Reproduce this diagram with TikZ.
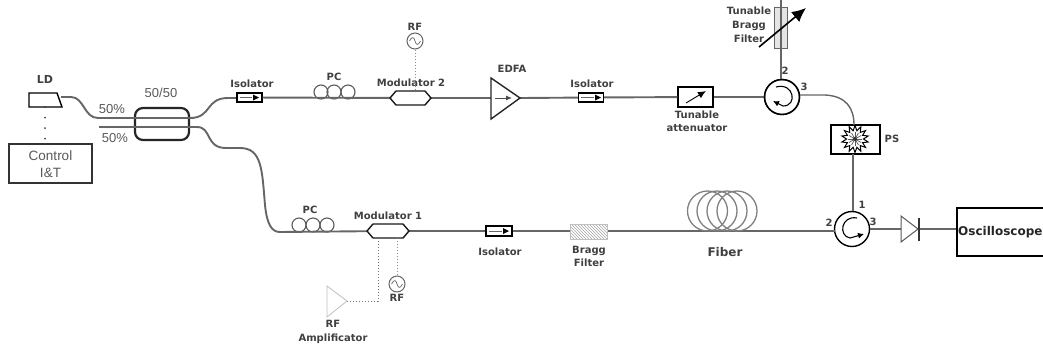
\documentclass[tikz,border=0pt]{standalone}
\usepackage{fontspec}
\setmainfont{Liberation Sans}
\newfontfamily\lblfont{DejaVu Sans}[BoldFont={DejaVu Sans Bold}]
\usetikzlibrary{shapes.geometric,patterns,arrows.meta,calc}
\tikzset{
  x=1pt,y=-1pt,
  lbl/.style={font=\lblfont\bfseries\fontsize{10}{12}\selectfont,text=black!75,inner sep=0pt,align=center},
  plain/.style={font=\fontsize{13}{15}\selectfont,text=black!65,inner sep=0pt,align=center},
  fibre/.style={draw=black!60,line width=1.9pt},
  thinfibre/.style={draw=black!60,line width=1.4pt},
  ctl/.style={draw=black!55,dotted,line width=1pt},
  isobox/.style={draw=black,line width=1.3pt,fill=white,minimum width=25pt,minimum height=9pt,inner sep=0pt},
  pcloop/.style={circle,draw=black!65,line width=1.1pt,fill=none,minimum size=14pt,inner sep=0pt},
  modul/.style={draw=black!90,line width=1.4pt,fill=white},
  rfsrc/.style={circle,draw=black!60,line width=1pt,fill=white,minimum size=16pt,inner sep=0pt},
  circ/.style={circle,draw=black,line width=1.4pt,fill=white,minimum size=35pt,inner sep=0pt},
  coil/.style={draw=black!50,line width=1.3pt},
  bigbox/.style={draw=black,line width=1.5pt,fill=white,inner sep=0pt},
}
\begin{document}
\begin{tikzpicture}
\useasboundingbox (0,0) rectangle (1043,349);
% ---------- anchors for free ends
\coordinate (ldout) at (61,97);
\coordinate (upL) at (98,118);
\coordinate (upR) at (190,118);
\coordinate (loL) at (99,127);
\coordinate (loR) at (197,127);
\coordinate (iso1L) at (237,98);
\coordinate (lowturn) at (280,232);
% ---------- LD and control
\node[bigbox,minimum width=83pt,minimum height=39pt,draw=black!80] (ctrl) at (50.5,163.5) {};
\node[plain,font=\fontsize{13.5}{16}\selectfont] (ctrltxt) at (50.5,164) {Control\\[1pt]I\&T};
\draw[black,line width=1.4pt,fill=white] (29,93) -- (57,93) -- (62,107) -- (29,107) -- cycle;
\coordinate (ldbot) at (45,107);
\node[lbl,font=\lblfont\bfseries\fontsize{11}{13}\selectfont] (ldlbl) at (45,79) {LD};
\draw[black!75,line width=2pt,line cap=round,dash pattern=on 0pt off 10.5pt] (ldbot) -- (ctrl.north -| ldbot);
% ---------- coupler
\draw[black!85,line width=2.2pt,fill=white,rounded corners=8pt] (135,108) rectangle (189,140);
\node[plain] (cpl) at (161,93) {50/50};
\node[plain] (p1) at (112,109) {50\%};
\node[plain] (p2) at (115,138) {50\%};
% fibre arms
\draw[fibre] (ldout) -- (71,97) .. controls (84,97) and (84,118) .. (upL) -- (upR) .. controls (212,118) and (205,98) .. (228,98) -- (iso1L);
\draw[fibre] (loL) -- (loR) .. controls (212,127) and (205,148) .. (226,148) -- (240,148) .. controls (262,148) and (262,170) .. (265,205) .. controls (267,225) and (272,232) .. (lowturn);
% ---------- upper arm
\node[isobox] (iso1) at (249.5,97.5) {};
\node[lbl] (iso1t) at (252,84) {Isolator};
\node[pcloop] (pc1a) at (321,92) {};
\node[pcloop] (pc1b) at (334,92) {};
\node[pcloop] (pc1c) at (348,92) {};
\node[lbl] (pc1t) at (334,77) {PC};
\node[inner sep=0pt,minimum width=41pt,minimum height=14pt] (mod2) at (410.5,98) {};
\node[lbl] (mod2t) at (411,83) {Modulator 2};
\node[rfsrc] (rf2) at (415,41) {};
\node[lbl] (rf2t) at (415,27) {RF};
\node[inner sep=0pt,minimum size=0pt] (edfaL) at (491,98) {};
\node[inner sep=0pt,minimum size=0pt] (edfaR) at (520,98) {};
\node[lbl] (edfat) at (512,69) {EDFA};
\node[isobox] (iso2) at (591,97.5) {};
\node[lbl] (iso2t) at (592,84) {Isolator};
\node[bigbox,minimum width=35pt,minimum height=20pt] (att) at (695.5,97) {};
\node[lbl] (attt) at (697,121.5) {Tunable\\[1.5pt]attenuator};
\node[circ] (c1) at (782,97) {};
\draw[fibre] (iso1) -- (mod2);
\draw[fibre] (mod2) -- (edfaL);
\draw[fibre] (edfaR) -- (iso2);
\draw[fibre] (iso2) -- (att);
\draw[fibre] (att) -- (c1);
\draw[modul] (390,98) -- (396,91) -- (425,91) -- (431,98) -- (425,105) -- (396,105) -- cycle;
\draw[ctl,draw=black!45] (rf2) -- (mod2.north -| rf2);
\draw[black!60,line width=.7pt] (409.5,41) .. controls (412,36) and (414,37) .. (415,41) .. controls (416,45) and (418,46) .. (420.5,41);
\draw[black!85,line width=1.4pt,fill=white] (491,78) -- (520,98) -- (491,119) -- cycle;
\draw[black!70,line width=.8pt,-{Latex[length=6pt,width=5pt]}] (495,98) -- (512,98);
\draw[black!60,line width=1pt] (240,97.5) -- (252,97.5);
\fill[black] (253,94.5) -- (259,97.5) -- (253,100.5) -- cycle;
\draw[black!60,line width=1pt] (581,97.5) -- (594,97.5);
\fill[black] (595,94.5) -- (601,97.5) -- (595,100.5) -- cycle;
\draw[black,line width=.9pt,-{Latex[length=8pt,width=7pt]}] (686,103) -- (706,91);
\node[circ,fill=none] (c1b) at (782,97) {};
\draw[black,line width=1.1pt,-{Latex[length=6pt,width=6pt]}] (776,87) .. controls (794,82) and (798,106) .. (783,106) -- (773,101);
% ---------- tunable Bragg
\node[draw=black!60,line width=1pt,fill=black!10,minimum width=13pt,minimum height=41pt,inner sep=0pt] (tbf) at (780.5,27.5) {};
\coordinate (tbftop) at (781,0);
\draw[fibre] (tbftop) -- (c1.north -| tbftop);
\node[lbl] (tbft) at (749,25) {Tunable\\[2pt]Bragg\\[2pt]Filter};
\draw[black,line width=1.6pt,-{Latex[length=14pt,width=13pt]}] (759,47) -- (806,8);
\node[lbl] (n2) at (785,71) {2};
\node[lbl] (n3) at (804,87) {3};
% ---------- PS
\node[bigbox,minimum width=49pt,minimum height=29pt] (ps) at (855.5,139.5) {};
\node[star,star points=14,star point ratio=1.6,draw=black,line width=1pt,fill=white,minimum size=27pt,inner sep=0pt] (burst) at (855,139) {};
\foreach \a in {0,30,...,330}{\draw[black!65,line width=.7pt] (burst.center) -- ++(\a:7);}
\fill[black!80] (burst.center) circle (2pt);
\node[lbl] (pst) at (892,139) {PS};
\coordinate (c1out) at (800,95);
\coordinate (psin) at (854,125);
\draw[thinfibre] (c1out) -- (825,95) .. controls (846,96) and (854,108) .. (psin);
% ---------- lower circulator
\node[circ] (c2) at (852,229) {};
\coordinate (psdown) at (853,154);
\draw[fibre] (psdown) -- (c2.north -| psdown);
\draw[black,line width=1.1pt,-{Latex[length=6pt,width=6pt]}] (857,218) .. controls (841,215) and (838,236) .. (850,238) -- (864,234);
\node[lbl] (n1) at (862,205) {1};
\node[lbl] (n22) at (829,223) {2};
\node[lbl] (n33) at (873,222) {3};
% ---------- lower arm
\node[pcloop] (pc2a) at (299,225) {};
\node[pcloop] (pc2b) at (313,225) {};
\node[pcloop] (pc2c) at (327,225) {};
\node[lbl] (pc2t) at (310,210) {PC};
\node[inner sep=0pt,minimum width=42pt,minimum height=14pt] (mod1) at (388,231) {};
\node[lbl] (mod1t) at (388,216) {Modulator 1};
\node[isobox,minimum width=26pt,minimum height=10pt] (iso3) at (499,231) {};
\node[lbl] (iso3t) at (500,252) {Isolator};
\node[inner sep=0pt,minimum width=37pt,minimum height=15pt] (bf) at (588.5,231) {};
\node[lbl] (bft) at (589,256.5) {Bragg\\[1.5pt]Filter};
\coordinate (lineend) at (835,231);
\draw[fibre] (lowturn) -- (mod1);
\draw[fibre] (mod1) -- (iso3);
\draw[fibre] (iso3) -- (bf);
\draw[fibre] (bf) -- (lineend);
\draw[black!25,pattern=north west lines,pattern color=black!35] (570,224) rectangle (607,239);
\draw[modul] (367,231) -- (373,224) -- (403,224) -- (409,231) -- (403,238) -- (373,238) -- cycle;
\draw[black!60,line width=1pt] (489,231) -- (502,231);
\fill[black] (503,228) -- (509,231) -- (503,234) -- cycle;
% fibre coil
\foreach \c in {707.5,717,727,737}{\draw[coil] (\c,211) ellipse [x radius=20,y radius=20];}
\node[lbl,font=\lblfont\bfseries\fontsize{12}{14}\selectfont] (fibt) at (725,252) {Fiber};
% RF branch of modulator 1
\node[rfsrc] (rf1) at (397,284) {};
\draw[black!60,line width=.7pt] (391.5,284) .. controls (394,279) and (396,280) .. (397,284) .. controls (398,288) and (400,289) .. (402.5,284);
\node[lbl] (rf1t) at (397,298) {RF};
\coordinate (modin) at (378,238);
\coordinate (ampturn) at (378,301);
\coordinate (rfin) at (397,238);
\coordinate (amptip) at (347,301);
\draw[ctl,draw=black!55] (modin) -- (ampturn) -- (amptip);
\draw[ctl,draw=black!45] (rfin) -- (rf1);
\draw[black!25,line width=.8pt,fill=white] (327,286) -- (347,301) -- (327,317) -- cycle;
\node[lbl] (ampt) at (333,332) {RF\\[2pt]Amplificator};
% ---------- detector and scope
\coordinate (detL) at (901,229);
\coordinate (detR) at (919,229);
\node[bigbox,minimum width=90pt,minimum height=48pt,anchor=west] (osc) at (956,232) {};
\draw[fibre] (c2.east) -- (detL);
\draw[fibre] (detR) -- (osc.west |- detR);
\draw[black!65,line width=1pt,fill=white] (901,216) -- (918,229) -- (901,242) -- cycle;
\draw[black!80,line width=1.2pt] (919,218) -- (919,241);
\node[lbl,anchor=west,text=black!85,font=\lblfont\bfseries\fontsize{12}{14}\selectfont] (osct) at (958,232) {Oscilloscope};
\end{tikzpicture}
\end{document}
